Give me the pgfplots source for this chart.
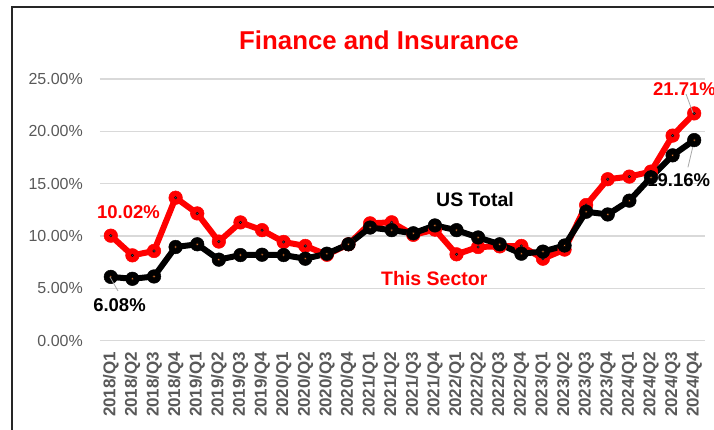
\documentclass[border=0pt]{standalone}
\usepackage{pgfplots}
\pgfplotsset{compat=1.18}
\usepackage{pgfplotstable}
\usepackage{fontspec}
\setmainfont{Liberation Sans}
\definecolor{gridc}{HTML}{D9D9D9}
\definecolor{tickc}{HTML}{595959}
\definecolor{dotr}{HTML}{44546A}
\definecolor{dotb}{HTML}{ED7D31}
\pgfplotstableread{
x sector total
0 10.02 6.08
1 8.14 5.90
2 8.56 6.12
3 13.65 8.94
4 12.15 9.20
5 9.46 7.73
6 11.29 8.17
7 10.55 8.20
8 9.42 8.17
9 9.04 7.82
10 8.20 8.30
11 9.20 9.20
12 11.20 10.80
13 11.30 10.55
14 10.10 10.25
15 10.60 11.00
16 8.24 10.55
17 8.94 9.85
18 9.00 9.20
19 9.04 8.30
20 7.82 8.50
21 8.69 9.08
22 12.95 12.31
23 15.42 12.05
24 15.67 13.37
25 16.15 15.60
26 19.59 17.70
27 21.71 19.16
}\datatable
\begin{document}
\begin{tikzpicture}
\useasboundingbox (0pt,0pt) rectangle (714pt,429pt);
\draw[line width=2pt, black!85] (12pt,-2pt) -- (12pt,422pt) -- (720pt,422pt);
\begin{axis}[
  at={(100pt,88.5pt)}, anchor=south west,
  scale only axis, width=605pt, height=261.5pt,
  xmin=-0.5, xmax=27.5, ymin=0, ymax=25,
  axis line style={draw=none},
  major tick length=0pt,
  ymajorgrids, grid style={gridc, line width=1.3pt},
  xtick={0,...,27},
  xticklabels={2018/Q1,2018/Q2,2018/Q3,2018/Q4,2019/Q1,2019/Q2,2019/Q3,2019/Q4,2020/Q1,2020/Q2,2020/Q3,2020/Q4,2021/Q1,2021/Q2,2021/Q3,2021/Q4,2022/Q1,2022/Q2,2022/Q3,2022/Q4,2023/Q1,2023/Q2,2023/Q3,2023/Q4,2024/Q1,2024/Q2,2024/Q3,2024/Q4},
  xticklabel style={font=\fontsize{17}{17}\selectfont\bfseries, text=tickc, anchor=east, rotate=90, inner ysep=0pt, inner xsep=11pt},
  ytick={0,5,10,15,20,25},
  yticklabels={0.00\%,5.00\%,10.00\%,15.00\%,20.00\%,25.00\%},
  yticklabel style={font=\fontsize{16}{16}\selectfont, text=tickc, anchor=east, inner ysep=0pt, inner xsep=17pt},
  clip=false,
]
\addplot[red, line width=6pt, mark=*, mark size=6.8pt, mark options={fill=red, draw=red, line width=0.5pt}] table[x=x, y=sector] {\datatable};
\addplot[only marks, mark=*, mark size=1.3pt, mark options={fill=dotr, draw=none}] table[x=x, y=sector] {\datatable};
\draw[gray!70, line width=0.8pt] (axis cs:26.99,19.0) -- (axis cs:26.71,16.55);
\node[text=black, font=\fontsize{18.5}{19}\selectfont\bfseries, anchor=west, inner sep=0pt] at (axis cs:24.82,15.34) {19.16\%};
\addplot[black, line width=6pt, mark=*, mark size=6.8pt, mark options={fill=black, draw=black, line width=0.5pt}] table[x=x, y=total] {\datatable};
\addplot[only marks, mark=*, mark size=1.3pt, mark options={fill=dotb, draw=none}] table[x=x, y=total] {\datatable};
\end{axis}
\node[text=red, font=\fontsize{25.8}{26}\selectfont\bfseries] at (379pt,388.5pt) {Finance and Insurance};
\draw[gray!70, line width=0.8pt] (110pt,152pt) -- (118pt,138pt);
\node[text=red, font=\fontsize{18.5}{19}\selectfont\bfseries] at (128.5pt,217pt) {10.02\%};
\node[text=black, font=\fontsize{18.5}{19}\selectfont\bfseries] at (119.5pt,124pt) {6.08\%};
\draw[gray!70, line width=0.8pt] (686pt,335pt) -- (693pt,316pt);
\node[text=red, font=\fontsize{18.5}{19}\selectfont\bfseries, anchor=west, inner sep=0pt] at (653pt,339.5pt) {21.71\%};
\node[text=black, font=\fontsize{19.5}{20}\selectfont\bfseries, anchor=west, inner sep=0pt] at (436pt,229pt) {US Total};
\node[text=red, font=\fontsize{19.5}{20}\selectfont\bfseries, anchor=west, inner sep=0pt] at (381pt,150pt) {This Sector};
\end{tikzpicture}
\end{document}
